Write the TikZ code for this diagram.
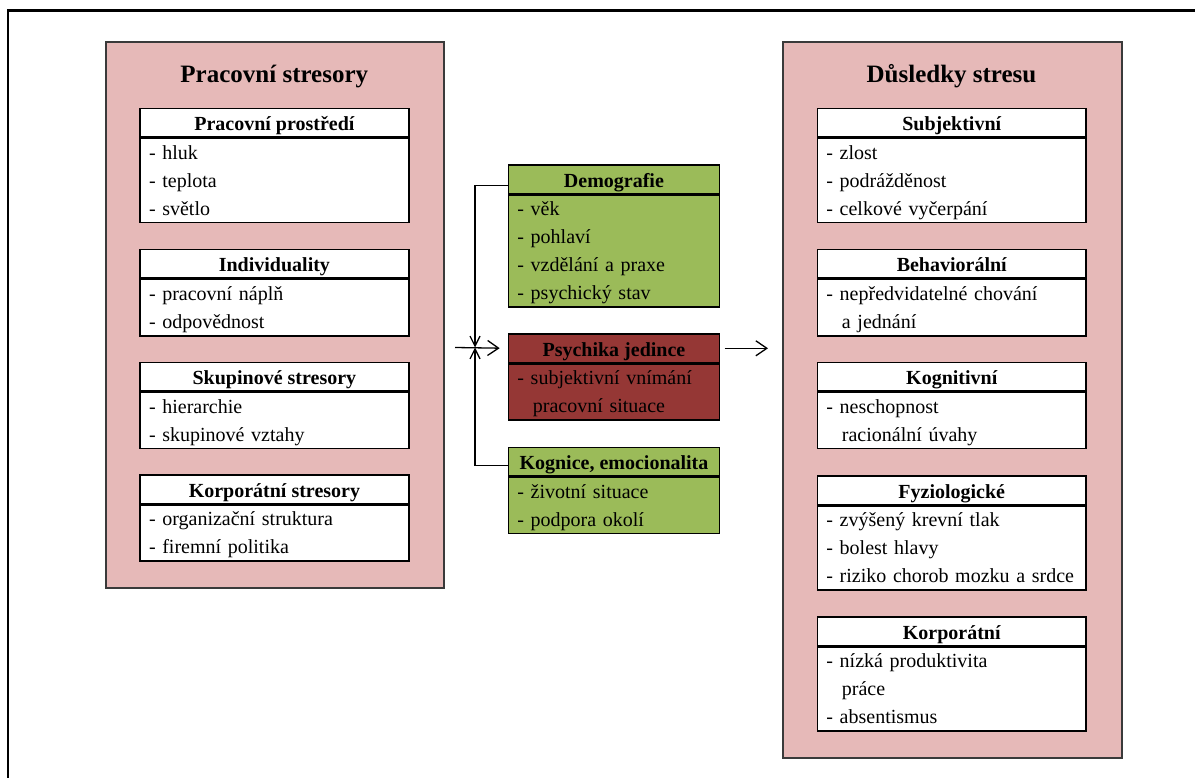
\documentclass[tikz,border=0pt]{standalone}
\usepackage{fontspec}
\setmainfont{Liberation Serif}
\usetikzlibrary{arrows.meta}
\definecolor{pinkbg}{HTML}{E6B9B8}
\definecolor{greenbg}{HTML}{9BBB59}
\definecolor{redbg}{HTML}{953735}
\definecolor{bigline}{HTML}{3A3A3A}
\newcommand{\mkbox}[8]{%
  \node[hdr, fill=#6, minimum width=#4, anchor=north west] (#1h) at (#2,#3) {#7};
  \node[bdy, fill=#6, minimum width=#4, minimum height={#5*28}, anchor=north west] (#1b) at (#1h.south west) {};
  \node[items, anchor=base west] (#1t) at ([xshift=9.5pt, yshift=-21.5pt]#1b.north west) {#8};
}
\begin{document}
\begin{tikzpicture}[x=1pt,y=-1pt,
  bigbox/.style={draw=bigline, line width=2pt, fill=pinkbg, inner sep=0pt, anchor=north west},
  bigtitle/.style={font=\fontsize{25}{30}\selectfont\bfseries, inner sep=0pt, anchor=base},
  hdr/.style={draw=black, line width=1.5pt, inner sep=0pt, minimum height=28.5,
    text height=16pt, text depth=0pt, font=\fontsize{20}{24}\selectfont\bfseries},
  bdy/.style={draw=black, line width=1.5pt, inner sep=0pt},
  items/.style={inner sep=0pt, text width=250pt, align=left, font=\fontsize{20}{28}\selectfont},
  conn/.style={draw=black, line width=1.3pt},
  tipH/.style={-{Straight Barb[length=11pt,width=15pt]}},
  tipV/.style={-{Straight Barb[length=10pt,width=10pt]}}]
\useasboundingbox[fill=white] (0,0) rectangle (1195,778);
\draw[line width=2.5pt] (8,778) -- (8,10.5) -- (1195,10.5);

% left column
\node[bigbox, minimum width=338, minimum height=546] (L) at (105,41) {};
\node[bigtitle] (Lt) at (274.3,83) {Pracovní stresory};
\mkbox{a}{139.3}{107.7}{268.7}{3}{white}{Pracovní prostředí}{- hluk\\- teplota\\- světlo}
\mkbox{b}{139.3}{249}{268.7}{2}{white}{Individuality}{- pracovní náplň\\- odpovědnost}
\mkbox{c}{139.3}{361.7}{268.7}{2}{white}{Skupinové stresory}{- hierarchie\\- skupinové vztahy}
\mkbox{d}{139.3}{474.3}{268.7}{2}{white}{Korporátní stresory}{- organizační struktura\\- firemní politika}

% right column
\node[bigbox, minimum width=339, minimum height=716] (R) at (782,41) {};
\node[bigtitle] (Rt) at (951.5,83) {Důsledky stresu};
\mkbox{e}{816.7}{108}{268.6}{3}{white}{Subjektivní}{- zlost\\- podrážděnost\\- celkové vyčerpání}
\mkbox{f}{816.7}{249}{268.6}{2}{white}{Behaviorální}{- nepředvidatelné chování\\\hspace*{15.5pt}a jednání}
\mkbox{g}{816.7}{361.7}{268.6}{2}{white}{Kognitivní}{- neschopnost\\\hspace*{15.5pt}racionální úvahy}
\mkbox{i}{816.7}{475}{268.6}{3}{white}{Fyziologické}{- zvýšený krevní tlak\\- bolest hlavy\\- riziko chorob mozku a srdce}
\mkbox{k}{816.7}{616}{268.6}{3}{white}{Korporátní}{- nízká produktivita\\\hspace*{15.5pt}práce\\- absentismus}

% middle
\mkbox{demo}{507.7}{164.3}{211}{4}{greenbg}{Demografie}{- věk\\- pohlaví\\- vzdělání a praxe\\- psychický stav}
\mkbox{psy}{507.7}{333.3}{211}{2}{redbg}{Psychika jedince}{- subjektivní vnímání\\\hspace*{15.5pt}pracovní situace}
\mkbox{kog}{507.7}{446.7}{211}{2}{greenbg}{Kognice, emocionalita}{- životní situace\\- podpora okolí}

% connectors
\coordinate (J) at (475,347.5);
\coordinate (S) at (455,347.5);
\draw[conn, tipV] ([yshift=-6.5pt]demoh.west) -| (J);
\draw[conn, tipV] ([yshift=-3.5pt]kogh.west) -| (J);
\draw[conn, tipH, shorten >=8pt] (S) -- (psyh.west);
\draw[conn, tipH, shorten <=4.5pt, shorten >=14pt] (psyh.east) -- (psyh.east -| R.west);
\end{tikzpicture}
\end{document}
